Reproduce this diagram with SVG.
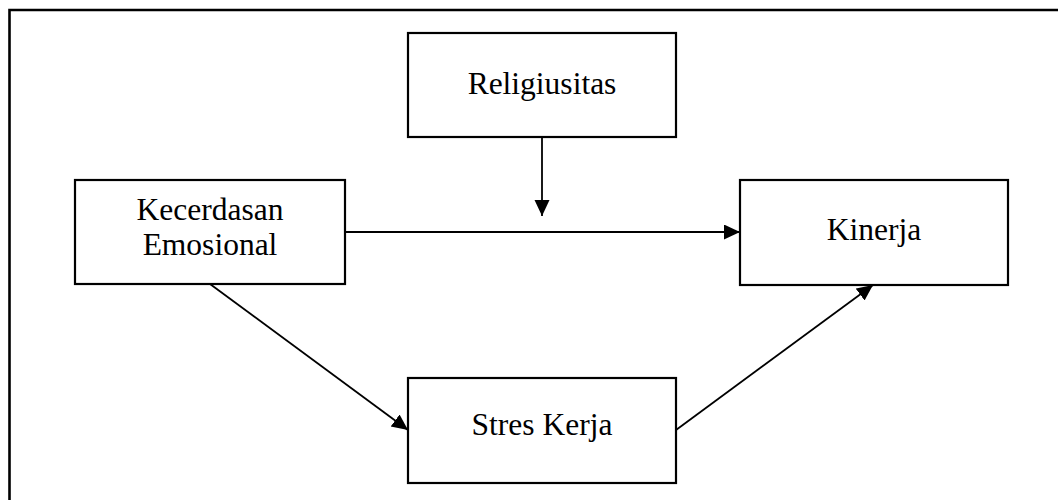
<svg xmlns="http://www.w3.org/2000/svg" width="1058" height="500" viewBox="0 0 1058 500">
<style>
.box{fill:#fff;stroke:#000;stroke-width:2.2}
.lbl{font-family:"Liberation Serif","Times New Roman",serif;font-size:31.5px;fill:#000;text-anchor:middle}
.conn{stroke:#000;stroke-width:1.8;fill:none;marker-end:url(#ah)}
</style>
<defs>
<marker id="ah" markerUnits="userSpaceOnUse" markerWidth="17" markerHeight="16" refX="16" refY="7.5" orient="auto">
<path d="M0,0 L16,7.5 L0,15 Z" fill="#000"/>
</marker>
</defs>
<rect width="1058" height="500" fill="#fff"/>
<path d="M9.5,500 V10 H1058" fill="none" stroke="#000" stroke-width="2.6"/>
<g id="connectors">
<line class="conn" x1="542" y1="137" x2="542" y2="216"/>
<line class="conn" x1="345" y1="232" x2="740" y2="232"/>
<line class="conn" x1="210" y1="284" x2="408" y2="430"/>
<line class="conn" x1="676" y1="430" x2="873" y2="285"/>
</g>
<g id="religiusitas">
<rect class="box" x="408" y="33" width="268" height="104"/>
<text class="lbl" x="542" y="94">Religiusitas</text>
</g>
<g id="kecerdasan">
<rect class="box" x="75" y="180" width="270" height="104"/>
<text class="lbl" x="210" y="220">Kecerdasan</text>
<text class="lbl" x="210" y="255">Emosional</text>
</g>
<g id="kinerja">
<rect class="box" x="740" y="180" width="268" height="105"/>
<text class="lbl" x="874" y="240">Kinerja</text>
</g>
<g id="stres">
<rect class="box" x="408" y="378" width="268" height="105"/>
<text class="lbl" x="542" y="435">Stres Kerja</text>
</g>
</svg>
